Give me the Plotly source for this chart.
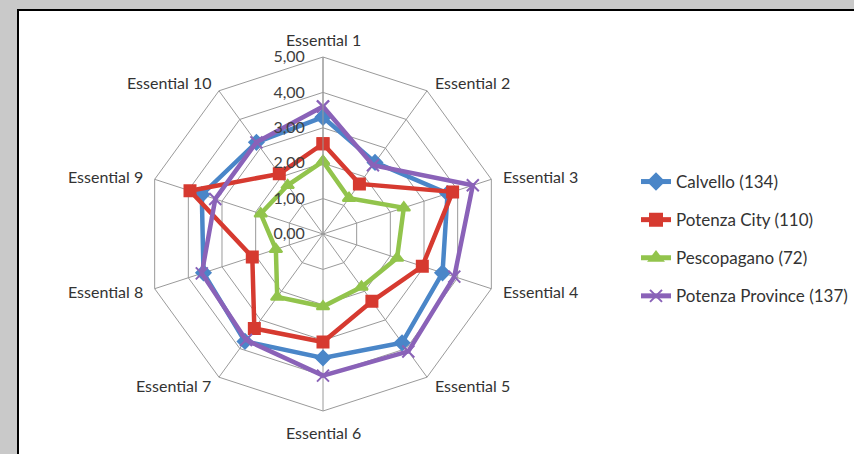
import math
import plotly.graph_objects as go

categories = ["Essential 1", "Essential 2", "Essential 3", "Essential 4", "Essential 5",
              "Essential 6", "Essential 7", "Essential 8", "Essential 9", "Essential 10"]
calvello = [3.3, 2.5, 3.7, 3.55, 3.8, 3.5, 3.75, 3.55, 3.6, 3.2]
potenza_city = [2.55, 1.75, 3.85, 2.95, 2.35, 3.05, 3.3, 2.1, 3.95, 2.1]
pescopagano = [2.05, 1.25, 2.4, 2.2, 1.85, 2.05, 2.2, 1.4, 1.85, 1.7]
potenza_province = [3.6, 2.4, 4.45, 3.9, 4.1, 4.0, 3.7, 3.6, 3.2, 3.2]
radial_ticks = [0, 1, 2, 3, 4, 5]

series = [
    ("Calvello (134)", calvello, "#4a86c8", "diamond"),
    ("Potenza City (110)", potenza_city, "#d63a30", "square"),
    ("Pescopagano (72)", pescopagano, "#92c44c", "triangle-up"),
    ("Potenza Province (137)", potenza_province, "#8a62b8", "x-thin-open"),
]

W, H = 854, 454
fig = go.Figure()
for i, (name, vals, col, sym) in enumerate(series):
    fig.add_trace(go.Scatterpolar(
        r=vals + vals[:1], theta=categories + categories[:1],
        mode="lines+markers", name=name, legendgroup=f"g{i}",
        line=dict(color=col, width=4.5),
        marker=dict(symbol=sym, size=11 if sym != "x-thin-open" else 12, color=col,
                    line=dict(color=col, width=2)),
    ))

cx, cy, R = 323, 234, 177
annotations = []
n = len(categories)
for k, lab in enumerate(categories):
    a = math.radians(k * 360 / n)
    dx, dy = math.sin(a), -math.cos(a)
    if abs(dx) < 0.1:
        off = 6 if dy < 0 else 10
        px, py = cx, cy + (R + off) * dy
        xa, ya = "center", ("bottom" if dy < 0 else "top")
    else:
        px, py = cx + (R + 10) * dx, cy + (R + 10) * dy
        xa, ya = ("left" if dx > 0 else "right"), "middle"
    annotations.append(dict(text=lab, xref="paper", yref="paper", x=px / W, y=1 - py / H,
                            xanchor=xa, yanchor=ya, showarrow=False,
                            font=dict(size=16, color="#333333")))

fig.update_layout(
    width=W, height=H,
    margin=dict(l=0, r=0, t=0, b=0),
    paper_bgcolor="#c9c9c9",
    separators=",.",
    font=dict(family="Lato, 'Open Sans', sans-serif", size=16, color="#333333"),
    annotations=annotations,
    shapes=[dict(type="rect", xref="paper", yref="paper", layer="below",
                 x0=18 / W, x1=1.02, y0=-0.02, y1=1 - 10 / H,
                 fillcolor="white", line=dict(color="black", width=2))],
    polar=dict(
        domain=dict(x=[(cx - R) / W, (cx + R) / W], y=[1 - (cy + R) / H, 1 - (cy - R) / H]),
        bgcolor="rgba(0,0,0,0)",
        gridshape="linear",
        angularaxis=dict(rotation=90, direction="clockwise", ticks="", showticklabels=False,
                         linecolor="#9a9a9a", gridcolor="#9a9a9a", linewidth=1),
        radialaxis=dict(range=[0, 5], tickvals=radial_ticks, tickformat=".2f",
                        angle=90, tickangle=90, side="counterclockwise",
                        ticks="outside", ticklen=12, tickcolor="rgba(0,0,0,0)",
                        showline=True, linecolor="#9a9a9a", gridcolor="#9a9a9a",
                        tickfont=dict(size=16, color="#404040")),
    ),
    legend=dict(x=636 / W, y=1 - 164 / H, xanchor="left", yanchor="top",
                bgcolor="rgba(0,0,0,0)", tracegroupgap=13, itemsizing="constant",
                font=dict(size=17, color="#333333")),
)
fig.write_html("out.html", config={"displayModeBar": False},
               post_script="document.body.style.margin='0';document.body.style.background='#c9c9c9';")
